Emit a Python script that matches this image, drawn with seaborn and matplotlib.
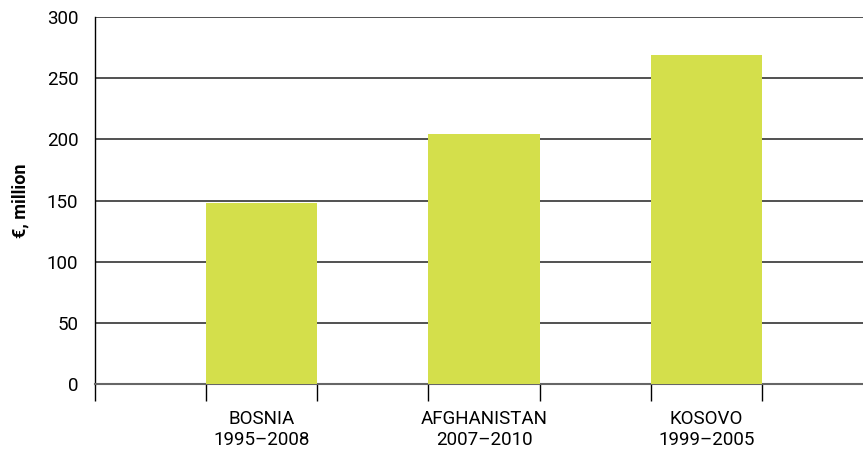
import matplotlib
matplotlib.use("Agg")
import matplotlib.pyplot as plt
import seaborn as sns
import pandas as pd

missions = ["BOSNIA\n1995\u20132008", "AFGHANISTAN\n2007\u20132010", "KOSOVO\n1999\u20132005"]
costs = [148, 204, 269]

df = pd.DataFrame({"mission": missions, "cost": costs})

sns.set_style("white")
plt.rcParams["font.family"] = ["Roboto", "DejaVu Sans"]

fig = plt.figure(figsize=(8.63, 4.55), dpi=100)
ax = fig.add_axes([95 / 863, (455 - 384) / 455, 1 - 95 / 863, (384 - 17) / 455])

sns.barplot(data=df, x="mission", y="cost", color="#d4df4b", width=0.5,
            saturation=1, linewidth=0, ax=ax, zorder=3)

ax.set_ylim(0, 300)
ax.set_xlim(-0.75, 2.705)
ax.set_yticks(range(0, 301, 50))
ax.yaxis.grid(True, color="#333333", linewidth=1.2, zorder=0)
ax.set_axisbelow(True)

for s in ["top", "right"]:
    ax.spines[s].set_visible(False)
ax.spines["left"].set_color("black")
ax.spines["left"].set_linewidth(1.0)
ax.spines["bottom"].set_color("#666666")
ax.spines["bottom"].set_linewidth(1.5)

ax.tick_params(axis="y", length=0, pad=12, labelsize=13.5, labelcolor="black")
ax.tick_params(axis="x", which="major", length=0, pad=19, labelsize=13.5, labelcolor="black")

# tick marks at bar edges and axis start
edges = [-0.75]
for i in range(len(missions)):
    edges += [i - 0.25, i + 0.25]
ax.set_xticks(edges, minor=True)
ax.tick_params(axis="x", which="minor", bottom=True, direction="out", length=12, width=1, color="black")

ax.set_xlabel("")
ax.set_ylabel("\u20ac, million", fontsize=13, fontweight="bold", color="black")
ax.yaxis.set_label_coords(-0.085, 0.5)

fig.savefig("out.png", dpi=100)
